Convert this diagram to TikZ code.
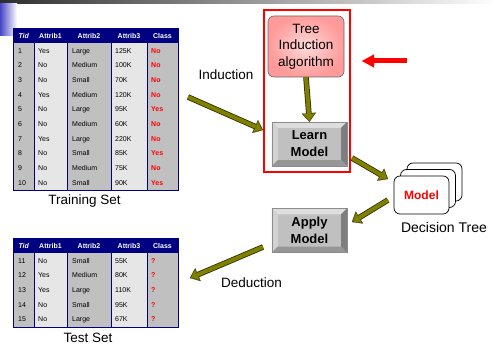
\documentclass[tikz,border=0pt]{standalone}
\usepackage{fontspec}
\setmainfont{Liberation Sans}
\usetikzlibrary{arrows.meta,calc}
\definecolor{navy}{HTML}{000080}
\definecolor{olivea}{HTML}{808000}
\definecolor{olived}{HTML}{2E2E00}
\definecolor{dgray}{HTML}{C0C0C0}
\definecolor{lgray}{HTML}{E6E6E6}
\definecolor{pinkin}{HTML}{FFDADA}
\definecolor{pinkout}{HTML}{FF9A9A}
\definecolor{tbar}{HTML}{2E2E2E}
\definecolor{bblue}{HTML}{4646C8}
\definecolor{bvtop}{HTML}{DEDEDE}
\definecolor{bvleft}{HTML}{D2D2D2}
\definecolor{bvright}{HTML}{7E7E7E}
\definecolor{bvbot}{HTML}{969696}
\tikzset{
  cell/.style={anchor=west, inner sep=0pt, text height=5pt, text depth=0pt, font=\fontsize{7}{8}\selectfont},
  hcell/.style={inner sep=0pt, text height=5pt, text depth=0pt, text=white, font=\fontsize{7}{8}\selectfont\bfseries},
  clscell/.style={cell, text=red, font=\fontsize{7}{8}\selectfont\bfseries},
  lbl/.style={inner sep=0pt, font=\fontsize{13.5}{16}\selectfont},
  blockarrow/.style={draw=olivea, line width=4pt, shorten >=1pt,
    -{Triangle[length=7pt,width=11.5pt,line width=0.1pt]},
    preaction={draw=olived, line width=5.6pt, shorten >=0pt,
      -{Triangle[length=8.6pt,width=14pt,line width=0.1pt]}}},
  redarrow/.style={draw=red, line width=5pt, -{Triangle[length=12pt,width=13pt,line width=0.1pt]}},
  bevelbox/.style={fill=dgray, minimum width=75pt, minimum height=44pt, inner sep=0pt,
    align=center, font=\fontsize{13}{17}\selectfont\bfseries},
  treebox/.style={rounded corners=6pt, draw=black!60, line width=0.6pt, inner color=pinkin, outer color=pinkout,
    minimum width=76pt, minimum height=61pt, inner sep=0pt, align=center, font=\fontsize{13.5}{16.5}\selectfont},
  card/.style={draw=black, fill=white, rounded corners=6pt, minimum width=55pt, minimum height=38pt, line width=0.7pt, inner sep=0pt},
}
\newcommand\mytable[4]{%
  \fill[navy] (13.5,#1) rectangle (178,#1+15.5);
  \fill[dgray] (13.5,#1+15.5) rectangle (34,#2);
  \fill[lgray] (34,#1+15.5) rectangle (67,#2);
  \fill[dgray] (67,#1+15.5) rectangle (111,#2);
  \fill[lgray] (111,#1+15.5) rectangle (147,#2);
  \fill[dgray] (147,#1+15.5) rectangle (178,#2);
  \foreach \xx in {34,67,111,147} \draw[navy, line width=0.9pt] (\xx,#1) -- (\xx,#2);
  \node[draw=navy, line width=0.9pt, inner sep=0pt, minimum width=164.5pt, minimum height={(#2-#1)*1pt}] (#3) at (95.75,{(#1+#2)/2}) {};
  \node[hcell, font=\fontsize{7}{8}\selectfont\bfseries\itshape] (#3h1) at (23.75,#1+8) {Tid};
  \node[hcell] (#3h2) at (50.5,#1+8) {Attrib1};
  \node[hcell] (#3h3) at (89,#1+8) {Attrib2};
  \node[hcell] (#3h4) at (129,#1+8) {Attrib3};
  \node[hcell] (#3h5) at (162.5,#1+8) {Class};
  \foreach \t/\a/\b/\c/\d [count=\i] in {#4} {
    \pgfmathsetmacro\yy{#1+15.5+(\i-0.5)*14.65}
    \node[cell] (#3t\i) at (18,\yy) {\t};
    \node[cell] (#3a\i) at (38,\yy) {\a};
    \node[cell] (#3b\i) at (72,\yy) {\b};
    \node[cell] (#3c\i) at (115,\yy) {\c};
    \node[clscell] (#3d\i) at (151,\yy) {\d};
  }
}
\newcommand\mybevel[1]{%
  \fill[bvtop] (#1.north west) -- (#1.north east) -- ($(#1.north east)+(-6,6)$) -- ($(#1.north west)+(6,6)$) -- cycle;
  \fill[bvleft] (#1.north west) -- ($(#1.north west)+(6,6)$) -- ($(#1.south west)+(6,-6)$) -- (#1.south west) -- cycle;
  \fill[bvright] (#1.north east) -- ($(#1.north east)+(-6,6)$) -- ($(#1.south east)+(-6,-6)$) -- (#1.south east) -- cycle;
  \fill[bvbot] (#1.south west) -- ($(#1.south west)+(6,-6)$) -- ($(#1.south east)+(-6,-6)$) -- (#1.south east) -- cycle;
  \draw[black!45, line width=0.4pt] (#1.north west) rectangle (#1.south east);
}
\begin{document}
\begin{tikzpicture}[x=1pt,y=-1pt]
\useasboundingbox (0,0) rectangle (496,347);
\fill[white] (0,0) rectangle (496,347);
\shade[left color=tbar, right color=white] (0,0) rectangle (496,4);
\shade[left color=bblue, right color=white] (0,4) rectangle (17,36);

% tables
\mytable{28}{190}{train}{1/Yes/Large/125K/No, 2/No/Medium/100K/No, 3/No/Small/70K/No, 4/Yes/Medium/120K/No, 5/No/Large/95K/Yes, 6/No/Medium/60K/No, 7/Yes/Large/220K/No, 8/No/Small/85K/Yes, 9/No/Medium/75K/No, 10/No/Small/90K/Yes}
\mytable{238}{327}{test}{11/No/Small/55K/?, 12/Yes/Medium/80K/?, 13/Yes/Large/110K/?, 14/No/Small/95K/?, 15/No/Large/67K/?}
\node[lbl] (trainlbl) at (84.5,201) {Training Set};
\node[lbl] (testlbl) at (88,338) {Test Set};

% red frame
\draw[red, line width=2pt] (264,10) rectangle (350,172);
\node[treebox] (tree) at (306,46.5) {Tree\\Induction\\algorithm};
\node[bevelbox] (learn) at (309.5,144) {Learn\\Model};
\mybevel{learn}
\node[bevelbox] (apply) at (309.5,230.5) {Apply\\Model};
\mybevel{apply}

% cards
\node[card] (card3) at (434.5,182) {};
\node[card] (card2) at (428,188.5) {};
\node[card, text=red, font=\fontsize{12}{14}\selectfont\bfseries] (model) at (421.5,195) {Model};
\node[lbl, font=\fontsize{14}{16}\selectfont] (dtlbl) at (444,227) {Decision Tree};

\node[lbl] (indlbl) at (226,75) {Induction};
\node[lbl] (dedlbl) at (251.5,283) {Deduction};

% arrows
\coordinate (ia) at (188,97); \coordinate (ib) at (263,130);
\coordinate (la) at (352,158); \coordinate (lb) at (388,179);
\coordinate (ma) at (388,200); \coordinate (mb) at (352,222);
\coordinate (da) at (263,247); \coordinate (db) at (190,278);
\coordinate (ra) at (407,61); \coordinate (rb) at (362,61);
\draw[blockarrow] (ia) -- (ib);
\draw[blockarrow] (tree.south) -- (learn.north);
\draw[blockarrow] (la) -- (lb);
\draw[blockarrow] (ma) -- (mb);
\draw[blockarrow] (da) -- (db);
\draw[redarrow] (ra) -- (rb);
\end{tikzpicture}
\end{document}
